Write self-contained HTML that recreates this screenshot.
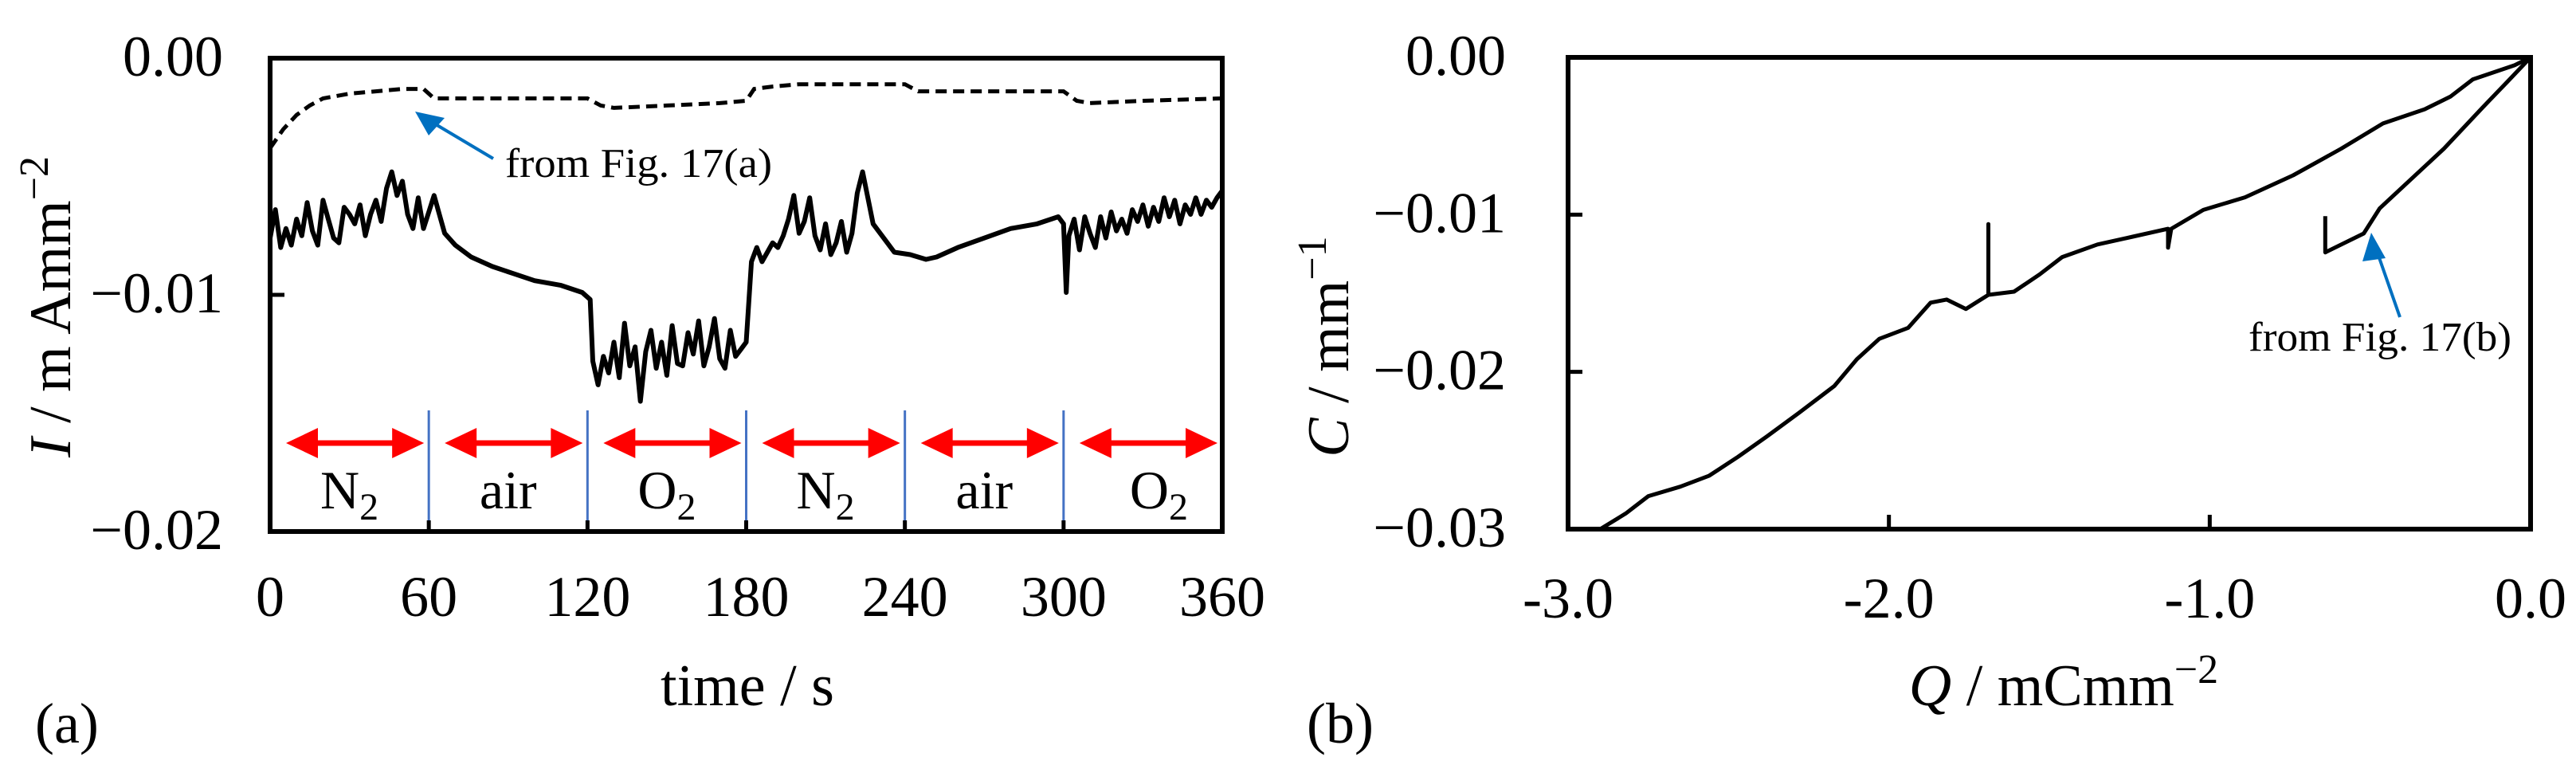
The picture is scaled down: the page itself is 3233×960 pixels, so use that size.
<!DOCTYPE html>
<html><head><meta charset="utf-8"><style>
html,body{margin:0;padding:0;background:#fff}
svg{display:block}
text{font-family:"Liberation Serif",serif;fill:#000}
</style></head><body>
<svg id="fig" width="3233" height="960" viewBox="0 0 3233 960" xmlns="http://www.w3.org/2000/svg">
<g id="panelA"></g>
<g id="panelB"></g>
</svg>
<script>
// ---- Panel (a) data ----
const aSolidT = [0,2,4,6,8,10,12,14,16,18,20,22,24,26,28,30,32,34,36,38,40,42,44,46,48,50,52,54,56,58,60,62,64,66,70,76,84,92,100,110,118,121,122,124,126,128,130,132,134,136,138,140,142,144,146,148,150,152,154,156,158,160,162,164,166,168,170,172,174,176,178,180,182,184,186,188,190,192,194,196,198,200,202,204,206,208,210,212,214,216,218,220,222,224,226,228,232,236,242,248,252,260,270,280,290,298,300,301,302,304,306,308,310,312,314,316,318,320,322,324,326,328,330,332,334,336,338,340,342,344,346,348,350,352,354,356,358,360];
const aSolidV = [-7.6,-6.4,-8.0,-7.2,-7.9,-6.8,-7.5,-6.1,-7.3,-7.9,-6.0,-6.8,-7.6,-7.8,-6.3,-6.6,-7.0,-6.2,-7.5,-6.6,-6.0,-6.9,-5.5,-4.8,-5.8,-5.2,-6.6,-7.2,-5.9,-7.2,-6.5,-5.8,-6.6,-7.4,-7.9,-8.4,-8.8,-9.1,-9.4,-9.6,-9.9,-10.2,-12.8,-13.8,-12.6,-13.3,-12.0,-13.5,-11.2,-13.0,-12.2,-14.5,-12.4,-11.5,-13.1,-12.0,-13.4,-11.3,-12.9,-13.0,-11.6,-12.5,-11.1,-13.0,-12.2,-11.0,-12.7,-13.1,-11.5,-12.6,-12.3,-12.0,-8.6,-8.0,-8.6,-8.2,-7.8,-8.0,-7.5,-6.8,-5.8,-7.4,-6.9,-5.9,-7.5,-8.1,-7.0,-8.3,-7.8,-6.9,-8.2,-7.4,-5.7,-4.8,-5.9,-7.0,-7.6,-8.2,-8.3,-8.5,-8.4,-8.0,-7.6,-7.2,-7.0,-6.7,-7.0,-9.9,-7.5,-6.8,-8.1,-6.7,-7.4,-8.0,-6.7,-7.6,-6.5,-7.3,-6.8,-7.4,-6.4,-6.9,-6.2,-7.1,-6.3,-6.9,-5.9,-6.7,-6.0,-7.0,-6.2,-6.6,-5.9,-6.6,-6.0,-6.3,-5.9,-5.6];
const aDashT = [0,5,10,15,20,25,30,40,50,58,62,70,100,120,125,130,150,170,180,183,190,200,220,240,245,260,280,300,305,310,330,360];
const aDashV = [-3.8,-3.0,-2.4,-2.0,-1.7,-1.6,-1.5,-1.4,-1.3,-1.3,-1.7,-1.7,-1.7,-1.7,-2.0,-2.1,-2.0,-1.9,-1.8,-1.3,-1.2,-1.1,-1.1,-1.1,-1.4,-1.4,-1.4,-1.4,-1.8,-1.9,-1.8,-1.7];
const aXTicks = [0,60,120,180,240,300,360];
const aYTicks = [0,-0.01,-0.02];
const aYTickLabels = ["0.00","\u22120.01","\u22120.02"];
const gasLabels = ["N","air","O","N","air","O"];
const gasSubs = ["2","","2","2","","2"];
// ---- Panel (b) data ----
const bMainQ = [-2.90,-2.82,-2.75,-2.65,-2.56,-2.47,-2.38,-2.28,-2.17,-2.10,-2.03,-1.94,-1.87,-1.82,-1.76,-1.69,-1.69,-1.69,-1.61,-1.53,-1.46,-1.35,-1.24,-1.13,-1.13,-1.12,-1.02,-0.89,-0.74,-0.66,-0.59,-0.46,-0.33,-0.25,-0.18,-0.05,0];
const bMainC = [-0.030,-0.0290,-0.0279,-0.0273,-0.0266,-0.0254,-0.0241,-0.0226,-0.0209,-0.0192,-0.0179,-0.0172,-0.0156,-0.0154,-0.0160,-0.0151,-0.0106,-0.0151,-0.0149,-0.0138,-0.0127,-0.0119,-0.0114,-0.0109,-0.0121,-0.0109,-0.0097,-0.0089,-0.0075,-0.0066,-0.0058,-0.0042,-0.0033,-0.0025,-0.0014,-0.0005,0];
const bSecQ = [0,-0.07,-0.15,-0.27,-0.37,-0.47,-0.52,-0.64,-0.64];
const bSecC = [0,-0.0015,-0.0032,-0.0058,-0.0077,-0.0096,-0.0112,-0.0124,-0.0101];
const bXTicks = [-3,-2,-1,0];
const bXTickLabels = ["-3.0","-2.0","-1.0","0.0"];
const bYTicks = [0,-0.01,-0.02,-0.03];
const bYTickLabels = ["0.00","\u22120.01","\u22120.02","\u22120.03"];

const NS = "http://www.w3.org/2000/svg";
function mk(parent, tag, attrs){ const e=document.createElementNS(NS,tag); for(const k in attrs) e.setAttribute(k,attrs[k]); parent.appendChild(e); return e; }

// ---------- Panel A ----------
const A = document.getElementById('panelA');
const aL=339,aR=1534,aT=73,aB=667;
const ax = t => aL + (t/360)*(aR-aL);
const ay = v => aT + (-v/0.02)*(aB-aT);

for(let i=1;i<aXTicks.length-1;i++){
  const l=mk(A,'line',{x1:ax(aXTicks[i]),x2:ax(aXTicks[i]),y1:515,y2:aB,stroke:'#4472c4','stroke-width':3});
  
  
}
for(let i=0;i<6;i++){
  const x1=ax(aXTicks[i])+20, x2=ax(aXTicks[i+1])-6, y=556;
  const g=mk(A,'g',{});
  
  
  mk(g,'line',{x1:x1+30,x2:x2-30,y1:y,y2:y,stroke:'#ff0000','stroke-width':7});
  mk(g,'path',{d:`M${x1},${y} L${x1+40},${y-19} L${x1+40},${y+19} z`,fill:'#ff0000'});
  mk(g,'path',{d:`M${x2},${y} L${x2-40},${y-19} L${x2-40},${y+19} z`,fill:'#ff0000'});
  const cx=(ax(aXTicks[i])+ax(aXTicks[i+1]))/2 + (i===5?20:0);
  const t=mk(A,'text',{x:cx,y:638,'font-size':68,'text-anchor':'middle'});
  
  
  t.textContent=gasLabels[i];
  if(gasSubs[i]){ const s=mk(t,'tspan',{'font-size':48,dy:14}); s.textContent=gasSubs[i]; }
}
{
  const d=aDashT.map((t,i)=>(i?'L':'M')+ax(t).toFixed(1)+','+ay(aDashV[i]/1000).toFixed(1)).join(' ');
  const p=mk(A,'path',{d:d,fill:'none',stroke:'#000','stroke-width':5,'stroke-dasharray':'14 8'});
  
  
}
{
  const d=aSolidT.map((t,i)=>(i?'L':'M')+ax(t).toFixed(1)+','+ay(aSolidV[i]/1000).toFixed(1)).join(' ');
  const p=mk(A,'path',{d:d,fill:'none',stroke:'#000','stroke-width':6,'stroke-linejoin':'round'});
  
  
}
{
  const r=mk(A,'rect',{x:aL,y:aT,width:aR-aL,height:aB-aT,fill:'none',stroke:'#000','stroke-width':6});
  
  
}
aXTicks.forEach(t=>{
  mk(A,'line',{x1:ax(t),x2:ax(t),y1:aB,y2:aB-14,stroke:'#000','stroke-width':5});
  const lb=mk(A,'text',{x:ax(t),y:773,'font-size':72,'text-anchor':'middle'});
  
  
  lb.textContent=t;
});
aYTicks.forEach((v,i)=>{
  mk(A,'line',{x1:aL,x2:aL+18,y1:ay(v),y2:ay(v),stroke:'#000','stroke-width':5});
  const lb=mk(A,'text',{x:280,y:ay(v)+22,'font-size':72,'text-anchor':'end'});
  
  
  lb.textContent=aYTickLabels[i];
});
{
  const ln=mk(A,'line',{x1:619,y1:199,x2:540,y2:152,stroke:'#0070c0','stroke-width':4});
  mk(A,'path',{d:'M521,140 L558,148 L538,170 z',fill:'#0070c0'});
  
  
  const t=mk(A,'text',{x:634,y:222,'font-size':52,textLength:335,lengthAdjust:'spacingAndGlyphs'});
  
  
  t.textContent='from Fig. 17(a)';
}
{
  const t=mk(A,'text',{x:938,y:885,'font-size':74,'text-anchor':'middle'});
  
  
  t.textContent='time / s';
  const y=mk(A,'text',{transform:'translate(88,385) rotate(-90)','font-size':74,'text-anchor':'middle'});
  
  
  const i1=mk(y,'tspan',{'font-style':'italic'}); i1.textContent='I';
  const i2=mk(y,'tspan',{}); i2.textContent=' / m Amm';
  const i3=mk(y,'tspan',{'font-size':52,dy:-28}); i3.textContent='\u22122';
  const lbl=mk(A,'text',{x:44,y:932,'font-size':72});
  
  
  lbl.textContent='(a)';
}

// ---------- Panel B ----------
const B = document.getElementById('panelB');
const bL=1968,bR=3176,bT=72,bB=664;
const bx = q => bL + ((q+3)/3)*(bR-bL);
const by = c => bT + (-c/0.03)*(bB-bT);
{
  const d=bMainQ.map((q,i)=>(i?'L':'M')+bx(q).toFixed(1)+','+by(bMainC[i]).toFixed(1)).join(' ');
  const p=mk(B,'path',{d:d,fill:'none',stroke:'#000','stroke-width':5,'stroke-linejoin':'round'});
  
  
  const d2=bSecQ.map((q,i)=>(i?'L':'M')+bx(q).toFixed(1)+','+by(bSecC[i]).toFixed(1)).join(' ');
  const p2=mk(B,'path',{d:d2,fill:'none',stroke:'#000','stroke-width':5,'stroke-linejoin':'round'});
  
  
}
{
  const r=mk(B,'rect',{x:bL,y:bT,width:bR-bL,height:bB-bT,fill:'none',stroke:'#000','stroke-width':6});
  
  
}
bXTicks.forEach((q,i)=>{
  mk(B,'line',{x1:bx(q),x2:bx(q),y1:bB,y2:bB-18,stroke:'#000','stroke-width':5});
  const lb=mk(B,'text',{x:bx(q),y:775,'font-size':72,'text-anchor':'middle'});
  
  
  lb.textContent=bXTickLabels[i];
});
bYTicks.forEach((c,i)=>{
  mk(B,'line',{x1:bL,x2:bL+18,y1:by(c),y2:by(c),stroke:'#000','stroke-width':5});
  const lb=mk(B,'text',{x:1890,y:by(c)+22,'font-size':72,'text-anchor':'end'});
  
  
  lb.textContent=bYTickLabels[i];
});
{
  const ln=mk(B,'line',{x1:3012,y1:398,x2:2982,y2:312,stroke:'#0070c0','stroke-width':4});
  mk(B,'path',{d:'M2976,292 L2965,328 L2994,324 z',fill:'#0070c0'});
  
  
  const t=mk(B,'text',{x:2822,y:440,'font-size':52,textLength:330,lengthAdjust:'spacingAndGlyphs'});
  
  
  t.textContent='from Fig. 17(b)';
}
{
  const t=mk(B,'text',{x:2590,y:885,'font-size':74,'text-anchor':'middle'});
  
  
  const q1=mk(t,'tspan',{'font-style':'italic'}); q1.textContent='Q';
  const q2=mk(t,'tspan',{}); q2.textContent=' / mCmm';
  const q3=mk(t,'tspan',{'font-size':52,dy:-28}); q3.textContent='\u22122';
  const y=mk(B,'text',{transform:'translate(1692,435) rotate(-90)','font-size':74,'text-anchor':'middle'});
  
  
  const c1=mk(y,'tspan',{'font-style':'italic'}); c1.textContent='C';
  const c2=mk(y,'tspan',{}); c2.textContent=' / mm';
  const c3=mk(y,'tspan',{'font-size':52,dy:-28}); c3.textContent='\u22121';
  const lbl=mk(B,'text',{x:1640,y:932,'font-size':72});
  
  
  lbl.textContent='(b)';
}
</script>
</body></html>
